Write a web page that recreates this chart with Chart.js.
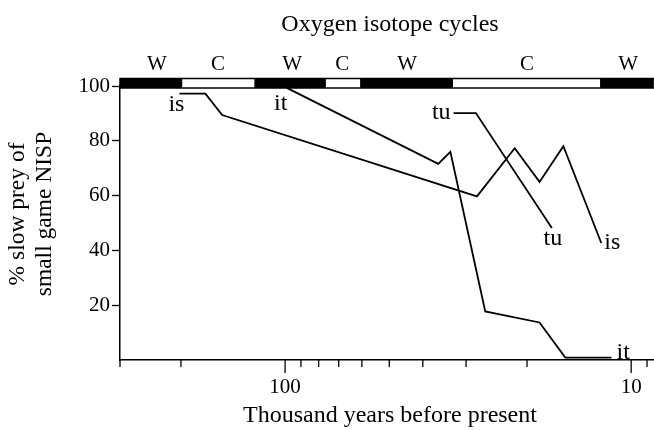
<!DOCTYPE html>
<html>
<head>
<meta charset="utf-8">
<script src="https://cdn.jsdelivr.net/npm/chart.js@4.4.1/dist/chart.umd.min.js"></script>
<style>
  html, body { margin: 0; padding: 0; background: #fff; }
  #wrap { width: 654px; height: 430px; }
</style>
</head>
<body>
<div id="wrap"><canvas id="c" width="654" height="430"></canvas></div>
<script>
// ---- Data (thousand years before present, % slow prey) ----
const ageIs = [202, 170, 152, 27.9, 21.7, 18.4, 15.7, 12.2];
const pctIs = [97.2, 97.2, 89.4, 59.7, 77.3, 65.0, 78.0, 42.7];
const ageIt = [98.9, 36.1, 33.3, 26.4, 18.4, 15.5, 11.4];
const pctIt = [99.3, 71.6, 76.0, 17.7, 13.7, 0.9, 0.9];
const ageTu = [32.6, 28.1, 16.95];
const pctTu = [90.1, 90.1, 48.2];
const seriesNames = ['is', 'it', 'tu'];

// Oxygen isotope cycles (W = warm, C = cold)
const isoBoundariesKa = [300, 198, 122.7, 76.2, 60.7, 32.7, 12.3, 8.6];
const isoStages = ['W', 'C', 'W', 'C', 'W', 'C', 'W'];
const isoLabelKa = [234.6, 156.2, 95.4, 68.4, 44.4, 20.0, 10.2];

// Axis ticks
const xTickValues = [300, 200, 100, 90, 80, 70, 60, 50, 40, 30, 20, 10, 9];
const xTickLabels = ['100', '10'];
const yTickValues = [20, 40, 60, 80, 100];
const xMin = 8.6, xMax = 300;

const titleTop = 'Oxygen isotope cycles';
const titleX = 'Thousand years before present';
const titleY = ['% slow prey of', 'small game NISP'];

const SERIF = '"Liberation Serif", "Times New Roman", serif';

function pts(xs, ys) { return xs.map((v, i) => ({ x: v, y: ys[i] })); }

const lineStyle = { borderColor: '#000', borderWidth: 1.8, pointRadius: 0, fill: false, tension: 0 };

// label placement relative to series end points (pixels)
const labelPlacement = {
  is: { start: { dx: -3, dy: 17, align: 'center' }, end: { dx: 3, dy: 6, align: 'left' } },
  it: { start: { dx: -6, dy: 22, align: 'center' }, end: { dx: 5, dy: 1, align: 'left' } },
  tu: { start: { dx: -3, dy: 6, align: 'right' }, end: { dx: 1, dy: 17, align: 'center' } }
};

const decor = {
  id: 'decor',
  afterDraw(chart) {
    const { ctx, chartArea: { left, right, top, bottom }, scales: { x, y } } = chart;
    ctx.save();
    // isotope bar
    const barTop = top - 7.5, barH = 9.5;
    for (let i = 0; i < isoStages.length; i++) {
      const x0 = x.getPixelForValue(isoBoundariesKa[i]);
      const x1 = x.getPixelForValue(isoBoundariesKa[i + 1]);
      ctx.fillStyle = isoStages[i] === 'W' ? '#000' : '#fff';
      ctx.fillRect(x0, barTop, x1 - x0, barH);
    }
    ctx.strokeStyle = '#000';
    ctx.lineWidth = 1.5;
    ctx.strokeRect(left, barTop, right - left + 3, barH);
    // stage labels
    ctx.fillStyle = '#000';
    ctx.font = '21px ' + SERIF;
    ctx.textAlign = 'center';
    ctx.textBaseline = 'alphabetic';
    for (let i = 0; i < isoStages.length; i++) {
      ctx.fillText(isoStages[i], x.getPixelForValue(isoLabelKa[i]), 70);
    }
    // x tick marks
    ctx.lineWidth = 1.3;
    xTickValues.forEach(v => {
      const px = x.getPixelForValue(v);
      const len = xTickLabels.includes(String(v)) ? 13 : 7;
      ctx.beginPath();
      ctx.moveTo(px, bottom);
      ctx.lineTo(px, bottom + len);
      ctx.stroke();
    });
    // titles
    ctx.font = '24px ' + SERIF;
    ctx.textAlign = 'center';
    ctx.fillText(titleTop, 390, 31);
    ctx.fillText(titleX, 390, 422);
    ctx.save();
    ctx.translate(24, 214);
    ctx.rotate(-Math.PI / 2);
    ctx.font = '23.5px ' + SERIF;
    ctx.fillText(titleY[0], 0, 0);
    ctx.fillText(titleY[1], 0, 27);
    ctx.restore();
    // series labels
    ctx.font = '24px ' + SERIF;
    chart.data.datasets.forEach((ds) => {
      const name = ds.label;
      const pl = labelPlacement[name];
      const d = ds.data;
      [['start', d[0]], ['end', d[d.length - 1]]].forEach(([k, p]) => {
        const o = pl[k];
        ctx.textAlign = o.align;
        ctx.fillText(name, x.getPixelForValue(p.x) + o.dx, y.getPixelForValue(p.y) + o.dy);
      });
    });
    ctx.restore();
  }
};

new Chart(document.getElementById('c'), {
  type: 'line',
  data: {
    datasets: [
      Object.assign({ label: seriesNames[0], data: pts(ageIs, pctIs) }, lineStyle),
      Object.assign({ label: seriesNames[1], data: pts(ageIt, pctIt) }, lineStyle),
      Object.assign({ label: seriesNames[2], data: pts(ageTu, pctTu) }, lineStyle)
    ]
  },
  options: {
    responsive: false,
    animation: false,
    devicePixelRatio: 1,
    layout: { padding: { top: 86, left: 0, right: 0, bottom: 0 } },
    plugins: { legend: { display: false }, title: { display: false }, tooltip: { enabled: false } },
    scales: {
      x: {
        type: 'logarithmic',
        reverse: true,
        min: xMin,
        max: xMax,
        afterBuildTicks: (s) => { s.ticks = xTickValues.map(v => ({ value: v })); },
        afterFit: (s) => { s.height = 70; },
        grid: { display: false },
        border: { display: true, color: '#000', width: 1.5 },
        ticks: {
          autoSkip: false, maxRotation: 0, minRotation: 0, padding: 7,
          color: '#000', font: { family: SERIF, size: 21 },
          callback: (v) => xTickLabels.includes(String(v)) ? String(v) : ''
        }
      },
      y: {
        min: 0,
        max: 100,
        afterBuildTicks: (s) => { s.ticks = yTickValues.map(v => ({ value: v })); },
        afterFit: (s) => { s.width = 120; },
        grid: { display: true, drawOnChartArea: false, drawTicks: true, tickLength: 8, color: '#000', tickWidth: 1.3 },
        border: { display: true, color: '#000', width: 1.5 },
        ticks: { padding: 2, color: '#000', font: { family: SERIF, size: 21 } }
      }
    }
  },
  plugins: [decor]
});
</script>
</body>
</html>
